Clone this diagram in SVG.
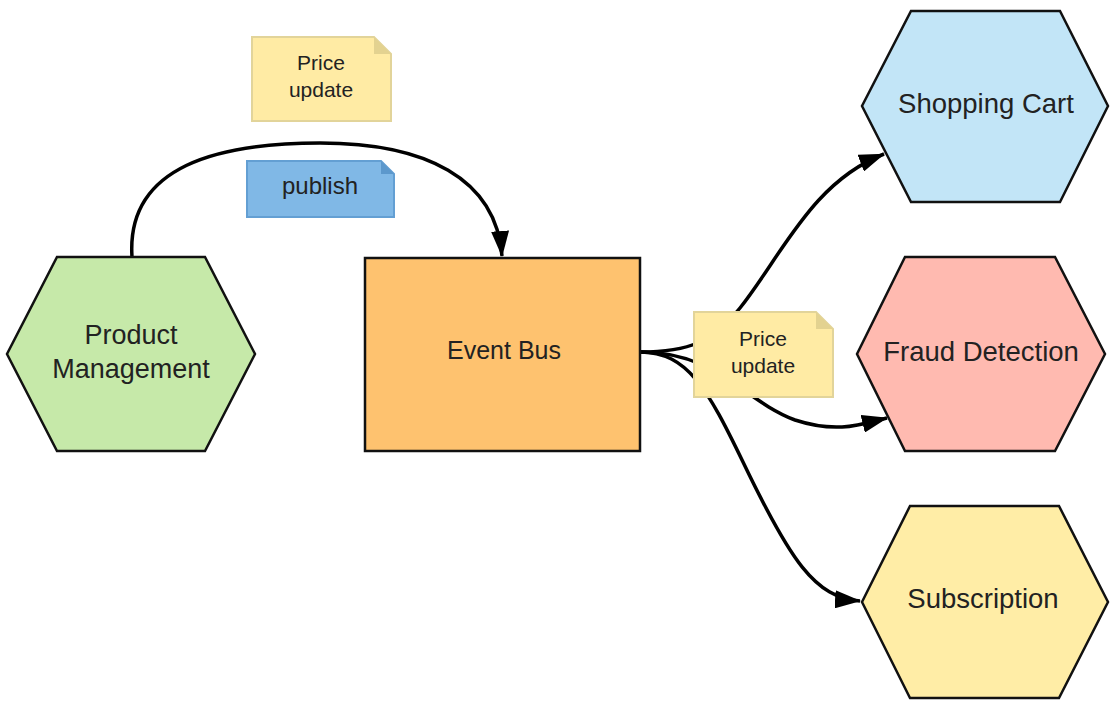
<svg xmlns="http://www.w3.org/2000/svg" width="1114" height="701" viewBox="0 0 1114 701">
<defs>
<marker id="arr" markerUnits="userSpaceOnUse" markerWidth="26" markerHeight="18" refX="25" refY="9" orient="auto">
<path d="M0,0 L26,9 L0,18 Z" fill="#000"/>
</marker>
<style>
.node{stroke:#111;stroke-width:2.5}
.lbl{font-family:"Liberation Sans",Arial,sans-serif;fill:#222;text-anchor:middle}
.conn{fill:none;stroke:#000;stroke-width:3.5}
.noteY{fill:#FFEBA4;stroke:#E2D49A;stroke-width:2}
.foldY{fill:#E3D290}
.noteB{fill:#80B8E6;stroke:#639FD3;stroke-width:2}
.foldB{fill:#5C98CC}
</style>
</defs>
<rect width="1114" height="701" fill="#fff"/>

<g id="connectors">
<path class="conn" d="M132,257 C126,165 220,143 320,143 C425,143 496,178 502,256" marker-end="url(#arr)"/>
<path class="conn" d="M640,352 C690,352 712,342 740,308 C782,255 812,182 884,154" marker-end="url(#arr)"/>
<path class="conn" d="M640,352 C718,352 742,400 795,420 C838,434 862,424 887,418" marker-end="url(#arr)"/>
<path class="conn" d="M640,352 C688,352 708,390 743,462 C790,560 815,598 860,601" marker-end="url(#arr)"/>
</g>

<g id="product-management">
<polygon class="node" points="57,257 205,257 255,354 205,451 57,451 7,354" fill="#C6E9A9"/>
<text class="lbl" x="131" y="344" font-size="27">Product</text>
<text class="lbl" x="131" y="378" font-size="27">Management</text>
</g>

<g id="event-bus">
<rect class="node" x="365" y="258" width="275" height="193" fill="#FEC26F"/>
<text class="lbl" x="504" y="359" font-size="25">Event Bus</text>
</g>

<g id="shopping-cart">
<polygon class="node" points="911,11 1060,11 1108,106 1060,202 911,202 862,106" fill="#C2E5F7"/>
<text class="lbl" x="986" y="113" font-size="27.5">Shopping Cart</text>
</g>

<g id="fraud-detection">
<polygon class="node" points="905,257 1055,257 1105,354 1055,451 905,451 857,354" fill="#FFBAB0"/>
<text class="lbl" x="981" y="361" font-size="27.5">Fraud Detection</text>
</g>

<g id="subscription">
<polygon class="node" points="910,506 1059,506 1108,602 1059,698 910,698 862,602" fill="#FFEDA6"/>
<text class="lbl" x="983" y="608" font-size="27.5">Subscription</text>
</g>

<g id="note-price-update-top">
<path class="noteY" d="M252,37 L374,37 L391,54 L391,121 L252,121 Z"/>
<path class="foldY" d="M374,37 L374,54 L391,54 Z"/>
<text class="lbl" x="321" y="70" font-size="21">Price</text>
<text class="lbl" x="321" y="97" font-size="21">update</text>
</g>

<g id="note-publish">
<path class="noteB" d="M247,161 L381,161 L394,174 L394,217 L247,217 Z"/>
<path class="foldB" d="M381,161 L381,174 L394,174 Z"/>
<text class="lbl" x="320" y="194" font-size="24">publish</text>
</g>

<g id="note-price-update-bus">
<path class="noteY" d="M694,312 L816,312 L833,329 L833,397 L694,397 Z"/>
<path class="foldY" d="M816,312 L816,329 L833,329 Z"/>
<text class="lbl" x="763" y="346" font-size="21">Price</text>
<text class="lbl" x="763" y="373" font-size="21">update</text>
</g>
</svg>
